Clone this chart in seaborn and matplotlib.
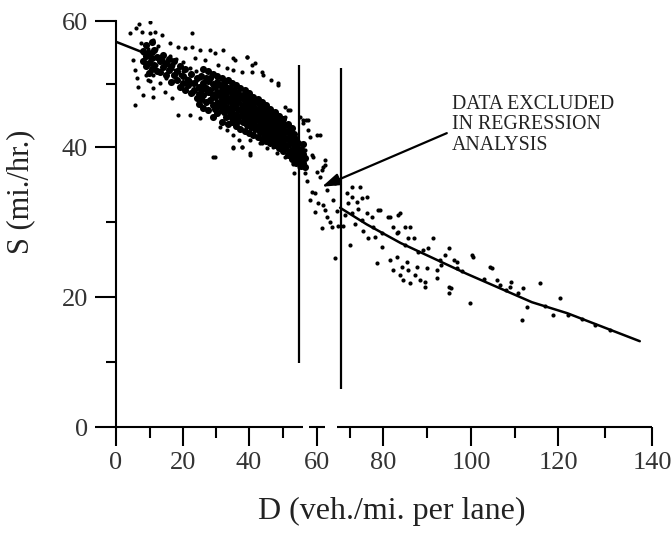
import numpy as np
import pandas as pd
import matplotlib
matplotlib.use("Agg")
import matplotlib.pyplot as plt
import seaborn as sns
from matplotlib.ticker import FixedLocator

# ================== axis calibration (scanned figure is not linear) ==================
X_TICKS = [0, 20, 40, 60, 80, 100, 120, 140]
X_PIX = [116, 183, 249, 317, 383, 471, 558, 652]
Y_TICKS = [0, 20, 40, 60]
Y_PIX = [0, 130, 280, 406]

# ================== data ==================
# uncongested regime, sparse points
free_D = [6.9, 10.2, 4.2, 6.0, 7.8, 10.2, 11.7, 13.7, 22.7, 16.1, 18.5, 20.6, 22.7, 25.2,
          28.2, 29.7, 32.1, 35.7, 39.3, 41.7, 23.6, 26.6, 30.5, 33.2, 35.0, 38.0, 41.0,
          44.0, 46.6, 48.4, 50.5, 52.0,
          5.7, 8.1, 6.6, 6.3, 5.7, 5.1, 9.6, 11.1, 13.1, 14.6, 16.7, 11.1, 18.5, 22.1,
          25.2, 29.1, 35.0, 38.0, 40.3, 31.2, 33.2, 35.0, 37.1, 40.3, 43.3, 47.1, 50.7,
          8, 9, 10, 11, 12, 9, 10, 11, 12, 13, 8.5, 10.5, 9.5, 11.5, 12.5, 7.5, 13, 14,
          10, 11, 9,
          14, 15, 16, 17, 18, 19, 20, 21, 22, 23, 24, 15, 17, 19, 21, 23, 16, 18, 20, 22,
          24, 25, 26, 27, 25, 26,
          35.1, 39.3, 41.0, 43.8, 48.6, 51.6, 29.7, 35.1, 37.8, 40.2, 43.8, 45.3, 48.3,
          50.7, 52.8, 53.1, 54.6,
          50.5, 52.0, 53.0, 53.5, 51.4, 53.0]
free_S = [59.6, 59.8, 58.1, 58.9, 58.3, 58.1, 58.3, 57.8, 58.1, 56.5, 55.9, 55.7, 55.9, 55.4,
          55.4, 54.9, 55.4, 53.8, 54.3, 53.3, 54.1, 53.8, 53.0, 52.5, 52.2, 51.9, 51.9,
          51.4, 50.6, 49.8, 46.3, 45.9,
          46.7, 48.3, 49.5, 51.0, 52.2, 53.8, 50.6, 49.4, 50.2, 48.7, 47.8, 47.9, 45.1, 45.1,
          44.6, 38.7, 40.0, 40.0, 38.9, 43.2, 42.7, 41.9, 41.1, 41.1, 40.6, 40.0, 39.6,
          55, 56, 54, 55, 53, 53, 52, 57, 55.5, 54, 54, 53.5, 55.5, 52.5, 56, 56.5, 52, 53.5,
          50.5, 51.5, 51.5,
          54, 53, 52.5, 53, 52, 51.5, 52, 51, 50.5, 50, 50.5, 51, 50.5, 49.5, 49, 48.5, 54.5,
          54, 53.5, 52.5, 52, 51, 50, 49.5, 48.5, 47.5,
          54.1, 54.3, 53.0, 51.9, 50.2, 45.9, 38.7, 39.9, 40.0, 39.2, 40.6, 39.9, 39.2,
          38.7, 37.7, 36.6, 37.3,
          44.8, 42.7, 41.1, 39.2, 39.6, 37.9]

# uncongested regime, dense knot and band (D, list of S)
blob_rows = [
    (8.2, [55.3, 53.6]), (9.0, [56.2, 54.4, 52.8]), (9.8, [55.0, 53.3, 51.7]),
    (10.6, [56.6, 54.1, 52.4]), (11.4, [55.4, 53.0]), (12.2, [54.3, 52.1]),
    (13.0, [53.6, 51.9]),
    (14.0, [54.6, 52.7]), (14.8, [53.3, 51.4]), (15.7, [54.0, 52.2]),
    (16.5, [52.8, 50.3]), (17.3, [53.6, 51.5]), (18.2, [52.0, 50.6]),
    (19.0, [52.9, 49.6]), (19.9, [51.3, 50.2]), (20.7, [52.4, 49.0]),
    (21.6, [50.7, 49.8]), (22.4, [51.6, 48.5]), (23.3, [50.2, 49.1]),
    (24.1, [51.0, 47.8]), (24.7, [49.6, 48.4, 46.9]),
    (25.5, [51.3, 49.2, 47.6]),
    (26.2, [52.4, 50.1, 48.3, 46.2]),
    (27.0, [51.0, 49.4, 47.1]),
    (27.6, [52.0, 50.4, 48.8, 45.9]),
    (28.3, [50.9, 49.0, 47.5]),
    (29.1, [51.6, 50.0, 48.2, 46.6, 44.8]),
    (29.8, [49.5, 47.9, 46.1]),
    (30.4, [51.2, 50.3, 48.7, 47.0, 45.4]),
    (31.1, [49.9, 48.2, 46.5]),
    (31.7, [51.0, 49.1, 47.6, 45.8, 44.0]),
    (32.4, [50.2, 48.6, 47.1, 45.5]),
    (33.0, [49.6, 48.0, 46.4, 44.7]),
    (33.6, [50.7, 48.9, 47.3, 45.9, 43.6]),
    (34.3, [49.3, 47.8, 46.2, 44.9]),
    (34.9, [50.1, 48.6, 47.0, 45.4, 43.9]),
    (35.5, [49.0, 47.4, 46.3, 44.6]),
    (36.2, [49.8, 48.1, 46.8, 45.1, 43.3]),
    (36.8, [48.6, 47.2, 45.8, 44.2]),
    (37.4, [49.3, 47.7, 46.1, 44.9, 42.8]),
    (38.1, [48.2, 46.7, 45.3, 43.9]),
    (38.7, [49.0, 47.3, 45.9, 44.4, 42.6]),
    (39.3, [47.9, 46.4, 45.0, 43.5]),
    (40.0, [48.5, 46.9, 45.6, 44.1, 42.3]),
    (40.6, [47.5, 46.0, 44.7, 43.1]),
    (41.2, [48.0, 46.5, 45.2, 43.8, 41.9]),
    (41.9, [47.1, 45.6, 44.3, 42.8]),
    (42.5, [47.6, 46.1, 44.8, 43.4, 41.6]),
    (43.1, [46.6, 45.2, 43.9, 42.4]),
    (43.8, [47.1, 45.7, 44.4, 43.0, 41.3]),
    (44.4, [46.2, 44.8, 43.5, 42.0]),
    (45.0, [46.6, 45.3, 44.0, 42.6, 40.9]),
    (45.7, [45.7, 44.4, 43.1, 41.6]),
    (46.3, [46.1, 44.9, 43.6, 42.2, 40.6]),
    (46.9, [45.2, 43.9, 42.7, 41.3]),
    (47.6, [45.6, 44.3, 43.1, 41.8, 40.3]),
    (48.2, [44.7, 43.5, 42.3, 40.9]),
    (48.8, [45.0, 43.8, 42.6, 41.4, 39.9]),
    (49.5, [44.1, 42.9, 41.7, 40.5]),
    (50.1, [44.4, 43.2, 42.1, 40.9, 39.5]),
    (50.7, [43.5, 42.4, 41.2, 40.1]),
    (51.4, [43.7, 42.6, 41.5, 40.3, 39.0]),
    (52.0, [42.8, 41.7, 40.6, 39.4]),
    (52.6, [43.0, 41.9, 40.8, 39.6, 38.4]),
    (53.3, [42.1, 41.0, 39.9, 38.8]),
    (53.9, [41.3, 40.2, 39.1, 37.9]),
    (54.5, [40.6, 39.5, 38.3]),
    (55.2, [39.8, 38.7, 37.5]),
    (55.9, [40.4, 39.1, 37.9]),
    (56.6, [38.6, 37.4]),
]

# points between the two lines (excluded from regression)
excl_D = [55.0, 55.8, 57.4, 60.0, 58.8, 56.6, 58.6, 58.0, 60.9, 57.4, 55.9, 56.7,
          59.4, 57.9, 60.3, 61.8, 62.4, 59.4, 63.9, 61.5, 64.5, 63.0, 65.5, 61.5, 62.4,
          60.9, 58.5, 63.0, 61.8, 62.4, 60.0, 57.0, 56.5, 64.8, 66.0, 65.5, 66.5]
excl_S = [44.8, 43.8, 42.7, 41.9, 38.7, 39.6, 38.9, 41.6, 41.9, 44.3, 44.3, 44.3,
          33.9, 32.9, 32.5, 32.3, 31.6, 31.3, 30.0, 29.2, 29.3, 30.7, 25.2, 36.9, 37.6,
          36.0, 34.0, 34.3, 37.3, 38.3, 36.7, 35.5, 36.5, 33.0, 31.5, 35.2, 29.5]

# congested regime
cong_D = [69.1, 70.6, 72.1, 73.6, 75.2, 69.4, 70.6, 75.2, 76.7, 79.1, 73.6, 77.0, 81.6,
          83.9, 82.3, 79.7, 83.2, 70.0, 77.6, 75.5, 83.2, 84.3, 81.6, 79.7, 85.0, 85.0,
          73.0, 78.5, 81.1, 83.4, 86.1, 85.7, 83.4, 91.4, 89.1, 90.2, 82.3, 83.9, 85.7,
          87.3, 88.4, 90.0, 92.3, 86.1, 89.5, 94.1, 96.8, 93.2, 95.0, 95.0, 96.8, 100.2,
          99.8, 104.8, 106.0, 106.7, 109.0, 110.8, 112.0, 111.7, 112.9, 115.9, 120.4,
          118.9, 122.1, 127.9,
          78.2, 85.5, 84.6, 89.5, 95.5, 87.7, 92.3, 109.2, 70.6, 87.0, 95.0, 96.1, 100.5,
          104.3, 68.5, 71.5, 74.0, 67.8, 72.5,
          88, 93, 98, 103, 108, 117, 125, 131]
cong_S = [33.9, 33.3, 32.7, 33.2, 33.3, 32.5, 31.2, 31.2, 30.7, 31.6, 30.3, 29.3, 30.7,
          31.2, 29.3, 28.5, 28.5, 26.9, 28.0, 27.9, 25.3, 24.0, 24.9, 26.7, 26.9, 29.3,
          34.7, 31.6, 30.7, 30.9, 29.3, 27.9, 28.7, 27.9, 26.3, 26.5, 23.6, 22.9, 23.6,
          22.9, 22.3, 23.9, 22.5, 21.9, 21.3, 25.6, 24.7, 24.3, 21.3, 20.5, 23.9, 25.6,
          19.1, 23.9, 22.3, 21.6, 21.3, 20.5, 21.2, 16.5, 18.5, 21.9, 19.8,
          17.2, 17.2, 15.7,
          24.5, 24.7, 22.3, 22.0, 21.2, 24.0, 23.6, 22.0, 34.7, 27.9, 26.5, 24.9, 25.3,
          24.0, 31.0, 29.8, 28.8, 29.5, 31.8,
          26.0, 25.0, 23.5, 22.4, 21.0, 18.6, 16.6, 15.0]

# fitted curves
left_fit_D = [0, 10, 20, 30, 40, 50, 55]
left_fit_S = [56.7, 54.6, 51.4, 47.6, 43.8, 39.9, 37.9]
right_fit_D = [67, 75, 84, 99, 114, 122, 137.4]
right_fit_S = [31.9, 29.7, 27.2, 23.1, 19.2, 17.5, 13.2]

# boundaries of the excluded data
bound_D = [54.7, 67.3]
bound_top = [53.0, 52.5]
bound_bottom = [9.9, 5.9]

note_text = "DATA EXCLUDED\nIN REGRESSION\nANALYSIS"
arrow_tail = (94.5, 42.2)
arrow_tip = (61.5, 34.7)
note_pos = (95.7, 48.3)


def fwd_x(v):
    return np.interp(v, X_TICKS, X_PIX)


def inv_x(p):
    return np.interp(p, X_PIX, X_TICKS)


def fwd_y(v):
    return np.interp(v, Y_TICKS, Y_PIX)


def inv_y(p):
    return np.interp(p, Y_PIX, Y_TICKS)


def main():
    sns.set_theme(style="white")
    plt.rcParams['font.family'] = ['Liberation Serif', 'DejaVu Serif']

    fig = plt.figure(figsize=(6.72, 5.41), dpi=100)
    ax = fig.add_axes([116 / 672, 1 - 427 / 541, 536 / 672, 406 / 541])
    ax.set_xscale("function", functions=(fwd_x, inv_x))
    ax.set_yscale("function", functions=(fwd_y, inv_y))

    blob_D = [d for d, ss in blob_rows for _ in ss]
    blob_S = [s for _, ss in blob_rows for s in ss]

    sparse = pd.DataFrame({"D": free_D + excl_D + cong_D, "S": free_S + excl_S + cong_S})
    dense = pd.DataFrame({"D": blob_D, "S": blob_S})

    sns.scatterplot(data=dense, x="D", y="S", ax=ax, color="black", s=26, linewidth=0)
    sns.scatterplot(data=sparse, x="D", y="S", ax=ax, color="black", s=9, linewidth=0)

    sns.lineplot(x=left_fit_D, y=left_fit_S, sort=False, color="black", lw=1.8, ax=ax)
    sns.lineplot(x=right_fit_D, y=right_fit_S, sort=False, color="black", lw=1.8, ax=ax)

    ax.vlines(bound_D, bound_bottom, bound_top, colors="black", lw=1.6)

    ax.annotate("", xy=arrow_tip, xytext=arrow_tail,
                arrowprops=dict(arrowstyle="-|>,head_length=0.9,head_width=0.3",
                                color="black", lw=1.6, shrinkA=0, shrinkB=0))
    ax.text(note_pos[0], note_pos[1], note_text, fontsize=14.3, va="top", ha="left",
            linespacing=1.12, color="#222222")

    ax.set_xlim(0, 140)
    ax.set_ylim(0, 60)
    ax.xaxis.set_major_locator(FixedLocator(X_TICKS))
    ax.xaxis.set_minor_locator(FixedLocator([10, 30, 50, 70, 90, 110, 130]))
    ax.yaxis.set_major_locator(FixedLocator(Y_TICKS))
    ax.yaxis.set_minor_locator(FixedLocator([10, 30, 50]))
    ax.set_xticklabels([str(t) for t in X_TICKS])
    ax.set_yticklabels([str(t) for t in Y_TICKS])

    for side in ["top", "right", "bottom"]:
        ax.spines[side].set_visible(False)
    ax.spines["left"].set_linewidth(1.5)
    ax.spines["left"].set_color("black")

    # broken x axis line
    for seg in [(0, 56), (57.5, 62.5), (66, 140)]:
        ax.plot(seg, (0, 0), color="black", lw=1.5, clip_on=False, solid_capstyle="butt")

    ax.tick_params(axis="x", which="major", direction="out", length=14, width=1.5,
                   pad=4, labelsize=19, labelcolor="#333333", color="black", bottom=True)
    ax.tick_params(axis="x", which="minor", direction="out", length=8, width=1.5,
                   color="black", bottom=True)
    ax.tick_params(axis="y", which="major", direction="out", length=15, width=1.5,
                   pad=5, labelsize=19, labelcolor="#333333", color="black", left=True)
    ax.tick_params(axis="y", which="minor", direction="out", length=7, width=1.5,
                   color="black", left=True)

    ax.set_xlabel("D (veh./mi. per lane)", fontsize=23, color="#222222")
    ax.set_ylabel("S (mi./hr.)", fontsize=22, color="#222222")
    ax.xaxis.set_label_coords(0.515, -0.172)
    ax.yaxis.set_label_coords(-0.15, 0.58)

    fig.savefig("out.png", dpi=100)


if __name__ == "__main__":
    main()
